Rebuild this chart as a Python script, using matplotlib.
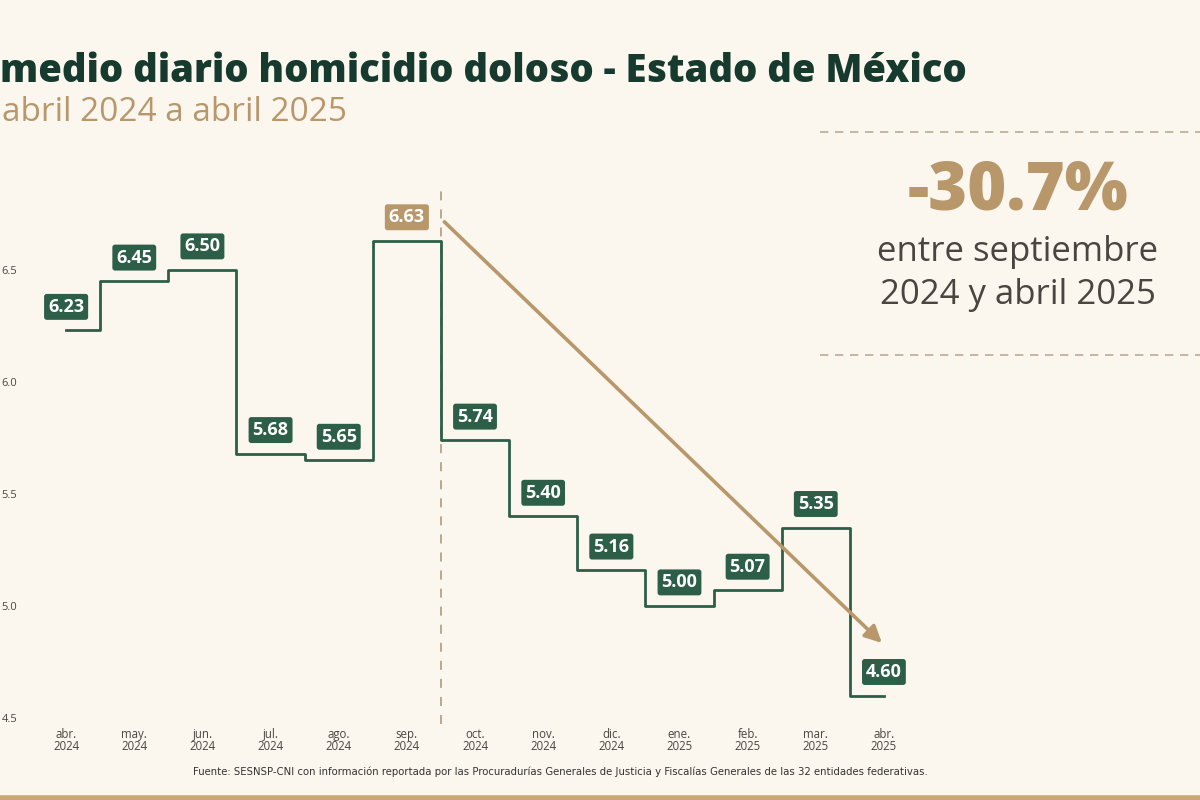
import matplotlib.pyplot as plt
import numpy as np

# datos
meses = ['abr.\n2024', 'may.\n2024', 'jun.\n2024', 'jul.\n2024', 'ago.\n2024', 'sep.\n2024',
         'oct.\n2024', 'nov.\n2024', 'dic.\n2024', 'ene.\n2025', 'feb.\n2025', 'mar.\n2025', 'abr.\n2025']
valores = [6.23, 6.45, 6.50, 5.68, 5.65, 6.63, 5.74, 5.40, 5.16, 5.00, 5.07, 5.35, 4.60]
yticks = [4.5, 5.0, 5.5, 6.0, 6.5]

bg = '#fbf6ee'
verde = '#2c5e48'
tan = '#b8976a'
gris = '#4a4541'

fig = plt.figure(figsize=(12, 8), dpi=100, facecolor=bg)
ax = fig.add_axes([0.025, 0.1025, 0.74, 0.70])
ax.set_facecolor(bg)

x = np.arange(len(valores))
ax.step(x, valores, where='mid', color=verde, lw=2.0, zorder=3)

# etiquetas de cada mes
isep = 5
for i, v in enumerate(valores):
    c = tan if i == isep else verde
    ax.annotate(f'{v:.2f}', (x[i], v), xytext=(0, 17), textcoords='offset points',
                ha='center', va='center', color='white', fontsize=13, fontweight='bold',
                family='Open Sans',
                bbox=dict(boxstyle='round,pad=0.22,rounding_size=0.15', fc=c, ec='none'),
                zorder=5)

# linea punteada de septiembre
ax.axvline(isep + 0.5, ymin=-0.01, ymax=0.943, color='#b3a287', lw=1.3,
           ls=(0, (5, 5)), zorder=2, clip_on=False)

# flecha de tendencia
ax.annotate('', xy=(x[-1] - 0.03, valores[-1] + 0.235),
            xytext=(isep + 0.55, valores[isep] + 0.085),
            arrowprops=dict(arrowstyle='-|>,head_length=1.0,head_width=0.5',
                            color=tan, lw=2.6, shrinkA=0, shrinkB=0), zorder=4)

ax.set_xlim(-0.53, 12.5)
ax.set_ylim(4.5, 7.0)
ax.set_xticks(x)
ax.set_xticklabels(meses, fontsize=8.3, color=gris, linespacing=0.95, family='Open Sans')
ax.set_yticks(yticks)
ax.set_yticklabels([f'{t:.1f}' for t in yticks], fontsize=8, color=gris, family='Open Sans')
ax.tick_params(length=0, pad=7)
ax.tick_params(axis='y', pad=9)
for s in ax.spines.values():
    s.set_visible(False)

# titulos
fig.text(0.0, 0.91, 'medio diario homicidio doloso - Estado de México', fontsize=27.5,
         fontweight='heavy', color='#173a2e', family='Open Sans', va='center')
fig.text(0.002, 0.859, 'abril 2024 a abril 2025', fontsize=24, color=tan,
         family='Open Sans', va='center')

# recuadro derecho
fig.add_artist(plt.Line2D([0.683, 1.0], [1 - 132 / 800] * 2, color='#b9ab95', lw=1.2,
                          ls=(0, (5, 4))))
fig.add_artist(plt.Line2D([0.683, 1.0], [1 - 355 / 800] * 2, color='#b9ab95', lw=1.2,
                          ls=(0, (5, 4))))
fig.text(0.848, 1 - 192 / 800, '-30.7%', fontsize=48, fontweight='heavy', color=tan,
         family='Open Sans', ha='center', va='center')
fig.text(0.848, 1 - 252 / 800, 'entre septiembre', fontsize=25, color=gris,
         family='Open Sans', ha='center', va='center')
fig.text(0.848, 1 - 295 / 800, '2024 y abril 2025', fontsize=25, color=gris,
         family='Open Sans', ha='center', va='center')

# fuente
fig.text(0.467, 1 - 772 / 800,
         'Fuente: SESNSP-CNI con información reportada por las Procuradurías Generales de Justicia y Fiscalías Generales de las 32 entidades federativas.',
         fontsize=7.3, color='#333333', family=['Liberation Sans Narrow', 'DejaVu Sans'],
         ha='center', va='center')

# franja inferior
fig.add_artist(plt.Line2D([0, 1], [0.002, 0.002], color='#c9a874', lw=4))

fig.savefig('out.png', dpi=100, facecolor=bg)
